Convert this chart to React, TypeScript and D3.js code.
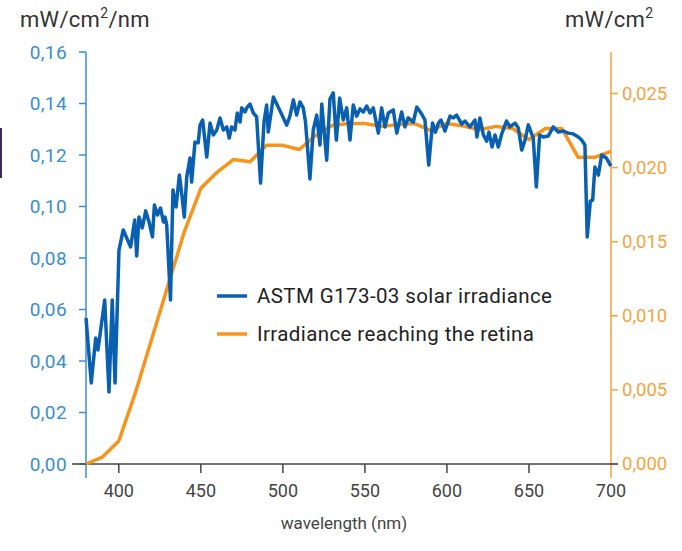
import React from "react";
import * as d3 from "d3";

// ASTM G173-03 solar irradiance (mW/cm²/nm)
const solarWavelengths = [
  380, 383.2, 385.9, 387.3, 391.4, 394, 396, 397.7, 400.1, 402.7, 407.2, 409.7, 410.9, 412.3, 414.3,
  416.4, 418.4, 420.5, 421.7, 423.6, 425.4, 427.2, 428.2, 429.2, 431.5, 433, 434.9, 436.9, 438.3,
  439.9, 441.4, 443.4, 444.4, 446.4, 448.4, 449.5, 451.1, 453.6, 455.6, 457.6, 459.7, 461.7, 463.7,
  465.8, 467.3, 468.8, 470.8, 472.2, 473.9, 474.9, 476.9, 478.3, 480, 482, 484, 486.4, 488.5, 490.1,
  491.1, 494.2, 498.9, 502.3, 504.3, 506.4, 508.4, 510.4, 512.4, 513.8, 516.5, 518.5, 520.6, 522.6,
  523.7, 526.7, 528.7, 530.7, 532.6, 534.6, 536.8, 538.9, 540.9, 542.9, 545, 547, 549, 551.1, 553.1,
  555.1, 558.2, 560.2, 562.2, 564.3, 567.3, 569.4, 572.4, 574.4, 576.4, 579.5, 581.6, 584.6, 586.6,
  588.9, 591.2, 593, 594.8, 596.4, 598.8, 601.9, 603.9, 605.9, 609, 611, 614, 617.1, 618.3, 620.1,
  622.2, 624.2, 625.6, 627.5, 629.3, 631.3, 633.4, 636.3, 638.4, 641.5, 643.5, 645.6, 647.6, 649.6,
  652.6, 654.5, 656.5, 658.7, 661.8, 664.8, 667.9, 670.9, 674, 677, 680.1, 682.1, 684.1, 685.5, 687.4,
  688.8, 690.2, 692.3, 694.3, 697.2, 700,
];
const solarValues = [
  0.0567, 0.0315, 0.0489, 0.0443, 0.0637, 0.028, 0.0637, 0.0315, 0.0831, 0.0909, 0.0843, 0.0948,
  0.0808, 0.0959, 0.0917, 0.0983, 0.094, 0.0882, 0.1006, 0.0967, 0.0994, 0.094, 0.0959, 0.0928,
  0.0637, 0.1064, 0.0998, 0.1122, 0.1052, 0.0959, 0.1115, 0.1188, 0.1095, 0.125, 0.1247, 0.1316,
  0.1336, 0.1192, 0.1324, 0.1278, 0.1297, 0.1344, 0.1297, 0.1309, 0.1266, 0.1309, 0.1297, 0.1363,
  0.1328, 0.1383, 0.1367, 0.1386, 0.1398, 0.1363, 0.1348, 0.1091, 0.1328, 0.1394, 0.1289, 0.1425,
  0.1363, 0.1316, 0.1351, 0.1414, 0.1355, 0.1406, 0.1383, 0.1328, 0.1107, 0.1297, 0.1355, 0.1239,
  0.1398, 0.118, 0.1417, 0.1441, 0.1258, 0.1421, 0.1336, 0.1383, 0.1258, 0.1394, 0.1351, 0.1379,
  0.1367, 0.139, 0.1363, 0.1383, 0.1285, 0.1383, 0.1309, 0.1363, 0.1375, 0.1285, 0.1367, 0.1309,
  0.1344, 0.1328, 0.1386, 0.1359, 0.1336, 0.1161, 0.1324, 0.1289, 0.1324, 0.1336, 0.1293, 0.1351,
  0.1344, 0.1355, 0.132, 0.1332, 0.1309, 0.1336, 0.127, 0.1344, 0.1278, 0.1254, 0.1289, 0.1231,
  0.1278, 0.1231, 0.1282, 0.1332, 0.1309, 0.1324, 0.1305, 0.1219, 0.1258, 0.1317, 0.1266, 0.1076,
  0.1278, 0.127, 0.1274, 0.1309, 0.1289, 0.1293, 0.1285, 0.1282, 0.127, 0.1258, 0.1239, 0.0882,
  0.1021, 0.1025, 0.1153, 0.1122, 0.12, 0.1188, 0.1157,
];

// Irradiance reaching the retina (mW/cm²)
const retinaWavelengths = [
  380, 390, 400, 410, 420, 430, 440, 450, 460, 470, 480, 490, 500, 510, 520, 530, 540, 550, 560, 570,
  580, 590, 600, 610, 620, 630, 640, 650, 660, 670, 680, 690, 700,
];
const retinaValues = [
  0, 0.00047, 0.00155, 0.00478, 0.00842, 0.01206, 0.0157, 0.0186, 0.0197, 0.02055, 0.0204, 0.0215,
  0.0215, 0.02122, 0.02217, 0.02284, 0.02298, 0.02298, 0.02278, 0.0229, 0.02298, 0.02251, 0.02298,
  0.0228, 0.02255, 0.02278, 0.02264, 0.0219, 0.02264, 0.02264, 0.02069, 0.02069, 0.02109,
];

const xTicks = [400, 450, 500, 550, 600, 650, 700];
const leftTicks = [0, 0.02, 0.04, 0.06, 0.08, 0.1, 0.12, 0.14, 0.16];
const rightTicks = [0, 0.005, 0.01, 0.015, 0.02, 0.025];

const legendLabels = ["ASTM G173-03 solar irradiance", "Irradiance reaching the retina"];

const BLUE = "#0a60b0";
const BLUE_AXIS = "#3a8dd0";
const ORANGE = "#f7941d";
const ORANGE_AXIS = "#f6a23e";
const GREY = "#444";
const FONT = "Roboto, 'DejaVu Sans', sans-serif";

export default function App() {
  const W = 682;
  const H = 551;
  const x = d3.scaleLinear().domain([380, 700]).range([86, 611]);
  const yL = d3.scaleLinear().domain([0, 0.16]).range([464, 52]);
  const yR = d3.scaleLinear().domain([0, 0.0278]).range([464, 52]);

  const solar = solarWavelengths.map((w, i) => [w, solarValues[i]] as [number, number]);
  const retina = retinaWavelengths.map((w, i) => [w, retinaValues[i]] as [number, number]);

  const blueLine = d3
    .line<[number, number]>()
    .x((d) => x(d[0]))
    .y((d) => yL(d[1]))(solar);
  const orangeLine = d3
    .line<[number, number]>()
    .x((d) => x(d[0]))
    .y((d) => yR(d[1]))(retina);

  const fmt2 = (v: number) => v.toFixed(2).replace(".", ",");
  const fmt3 = (v: number) => v.toFixed(3).replace(".", ",");

  const x0 = x(380);
  const x1 = x(700);
  const yBase = yL(0);

  return (
    <svg
      width={W}
      height={H}
      style={{ position: "absolute", left: 0, top: 0, background: "#fff" }}
      fontFamily={FONT}
    >
      <rect x={0} y={0} width={W} height={H} fill="#fff" />
      <rect x={0} y={128} width={2} height={50} fill="#3b2a58" />

      {/* titles */}
      <text x={20} y={27} fontSize={22} fill="#333" letterSpacing={0.3}>
        mW/cm<tspan fontSize={14} dy={-9}>2</tspan>
        <tspan dy={9}>/nm</tspan>
      </text>
      <text x={565} y={27} fontSize={22} fill="#333" letterSpacing={0.3}>
        mW/cm<tspan fontSize={14} dy={-9}>2</tspan>
      </text>

      {/* left axis */}
      <line x1={x0} x2={x0} y1={yL(0.16)} y2={yBase + 14} stroke={BLUE_AXIS} strokeWidth={1.5} />
      {leftTicks.map((t) => (
        <g key={"l" + t}>
          <line x1={x0 - 7} x2={x0} y1={yL(t)} y2={yL(t)} stroke={BLUE_AXIS} strokeWidth={1.5} />
          <text
            x={67}
            y={yL(t)}
            dy="0.35em"
            textAnchor="end"
            fontSize={19}
            letterSpacing={0.4}
            fill={BLUE_AXIS}
          >
            {fmt2(t)}
          </text>
        </g>
      ))}

      {/* right axis */}
      <line x1={x1} x2={x1} y1={yR(0.0278)} y2={yBase + 14} stroke={ORANGE_AXIS} strokeWidth={1.5} />
      {rightTicks.map((t) => (
        <g key={"r" + t}>
          <line x1={x1} x2={x1 + 7} y1={yR(t)} y2={yR(t)} stroke={ORANGE_AXIS} strokeWidth={1.5} />
          <text x={622} y={yR(t)} dy="0.35em" fontSize={18.5} fill={ORANGE_AXIS}>
            {fmt3(t)}
          </text>
        </g>
      ))}

      {/* x axis */}
      <line x1={72} x2={618} y1={yBase} y2={yBase} stroke={GREY} strokeWidth={1.5} />
      {xTicks.map((t) => (
        <g key={"x" + t}>
          {t !== 700 && (
            <line x1={x(t)} x2={x(t)} y1={yBase} y2={yBase + 9} stroke={GREY} strokeWidth={1.5} />
          )}
          <text x={x(t)} y={491} dy="0.35em" textAnchor="middle" fontSize={18} fill={GREY}>
            {t}
          </text>
        </g>
      ))}
      <text x={344} y={529} textAnchor="middle" fontSize={17} fill={GREY}>
        wavelength (nm)
      </text>

      {/* data */}
      <path d={orangeLine || ""} fill="none" stroke={ORANGE} strokeWidth={3.5} strokeLinejoin="round" />
      <path d={blueLine || ""} fill="none" stroke={BLUE} strokeWidth={3.5} strokeLinejoin="round" />

      {/* legend */}
      {legendLabels.map((label, i) => (
        <g key={label} transform={`translate(0, ${296 + i * 38})`}>
          <line
            x1={217}
            x2={247}
            y1={0}
            y2={0}
            stroke={i === 0 ? BLUE : ORANGE}
            strokeWidth={3.5}
          />
          <text x={257} y={0} dy="0.33em" fontSize={20.5} letterSpacing={0.4} fill="#222">
            {label}
          </text>
        </g>
      ))}
    </svg>
  );
}
